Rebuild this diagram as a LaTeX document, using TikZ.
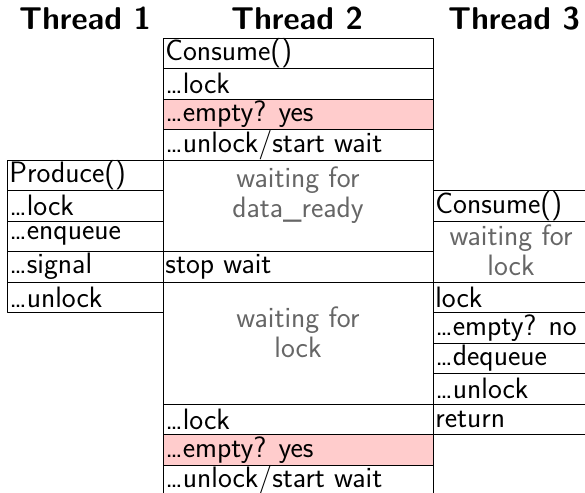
\documentclass[tikz,border=0pt]{standalone}
\usepackage{tikz}

\definecolor{emptycol}{RGB}{255,204,204}
\tikzset{
  slot/.style={anchor=west,inner xsep=2pt,inner ysep=0pt,font=\sffamily\fontsize{29.5}{30}\selectfont},
  waittext/.style={anchor=north,align=center,text=black!60,inner sep=0pt,font=\sffamily\fontsize{29.5}{30}\selectfont},
  threadname/.style={font=\sffamily\bfseries\fontsize{31.5}{34}\selectfont}
}

\begin{document}
\begin{tikzpicture}[x=1pt,y=-1pt,line width=0.8pt,line join=round]
		\useasboundingbox (0,0) rectangle (585,492);
		% thread titles
		\node[threadname] (th1) at (85,18.5) {Thread 1};
		\node[threadname] (th2) at (297,18.5) {Thread 2};
		\node[threadname] (th3) at (514,18.5) {Thread 3};

		% thread 2
		\fill[emptycol] (163,99) rectangle (433,129.5);
		\fill[emptycol] (163,434.5) rectangle (433,465);
		\draw (163,38) rectangle (433,68.5);
		\draw (163,68.5) rectangle (433,99);
		\draw (163,99) rectangle (433,129.5);
		\draw (163,129.5) rectangle (433,160);
		\draw (163,160) rectangle (433,251.5);
		\draw (163,251.5) rectangle (433,282);
		\draw (163,282) rectangle (433,404);
		\draw (163,404) rectangle (433,434.5);
		\draw (163,434.5) rectangle (433,465);
		\draw (163,465) rectangle (433,495.5);
		\node[slot] (c2a) at (163,53.25) {Consume()};
		\node[slot] (c2b) at (163,83.75) {…lock};
		\node[slot] (c2c) at (163,114.25) {…empty?\hskip12pt yes};
		\node[slot] (c2d) at (163,144.75) {…unlock/start wait};
		\node[waittext] (c2e) at (298,166) {waiting for\\data\_ready};
		\node[slot] (c2f) at (163,266.75) {stop wait};
		\node[waittext] (c2g) at (298,306) {waiting for\\lock};
		\node[slot] (c2h) at (163,419.25) {…lock};
		\node[slot] (c2i) at (163,449.75) {…empty?\hskip12pt yes};
		\node[slot] (c2j) at (163,480.25) {…unlock/start wait};

		% thread 1
		\draw (7,160) rectangle (163,190.5);
		\draw (7,190.5) rectangle (163,221);
		\draw (7,221) rectangle (163,251.5);
		\draw (7,251.5) rectangle (163,282);
		\draw (7,282) rectangle (163,312.5);
		\node[slot] (c1a) at (7,175.25) {Produce()};
		\node[slot] (c1b) at (7,205.75) {…lock};
		\node[slot] (c1c) at (7,236.25) {…enqueue};
		\node[slot] (c1d) at (7,266.75) {…signal};
		\node[slot] (c1e) at (7,297.25) {…unlock};

		% thread 3
		\draw (433,190.5) rectangle (589,221);
		\draw (433,221) rectangle (589,282);
		\draw (433,282) rectangle (589,312.5);
		\draw (433,312.5) rectangle (589,343);
		\draw (433,343) rectangle (589,373.5);
		\draw (433,373.5) rectangle (589,404);
		\draw (433,404) rectangle (589,434.5);
		\node[slot] (c3a) at (433,205.75) {Consume()};
		\node[waittext] (c3b) at (511,224) {waiting for\\lock};
		\node[slot] (c3c) at (433,297.25) {lock};
		\node[slot] (c3d) at (433,327.75) {…empty?\hskip12pt no};
		\node[slot] (c3e) at (433,358.25) {…dequeue};
		\node[slot] (c3f) at (433,388.75) {…unlock};
		\node[slot] (c3g) at (433,419.25) {return};
\end{tikzpicture}
\end{document}
